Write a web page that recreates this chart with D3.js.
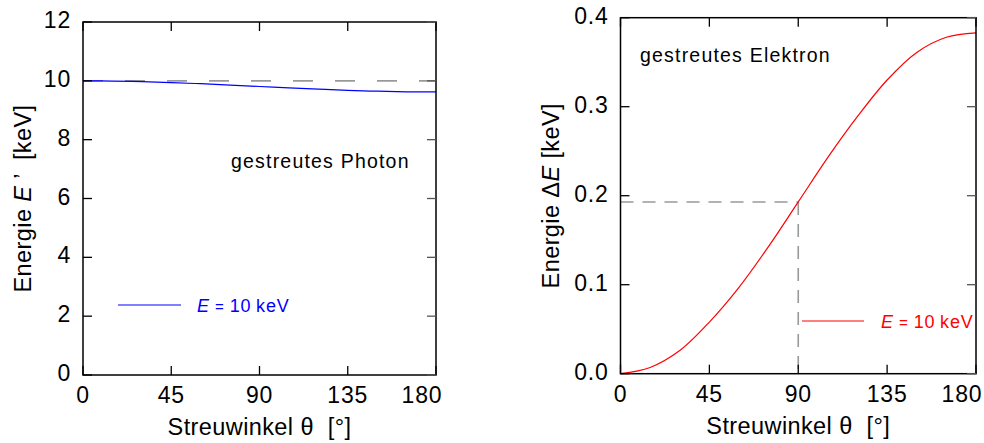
<!DOCTYPE html>
<html>
<head>
<meta charset="utf-8">
<script src="https://cdn.jsdelivr.net/npm/d3@7"></script>
<style>
  body { margin: 0; background: #fff; }
  svg { display: block; font-family: "Liberation Sans", Arial, Helvetica, sans-serif; }
</style>
</head>
<body>
<div id="cont"></div>
<script>
// data //
var angles = [0, 15, 30, 45, 60, 75, 90, 105, 120, 135, 150, 165, 180];
var photonEnergy = [10, 9.993, 9.974, 9.942, 9.902, 9.857, 9.808, 9.760, 9.716, 9.677, 9.647, 9.628, 9.623];
var electronEnergy = [0, 0.007, 0.026, 0.058, 0.097, 0.143, 0.193, 0.243, 0.289, 0.330, 0.361, 0.378, 0.383];
var angleTicks = [0, 45, 90, 135, 180];
var photonTicks = [0, 2, 4, 6, 8, 10, 12];
var electronTicks = [0, 0.1, 0.2, 0.3, 0.4];
var primaryEnergy = 10;
var markAngle = 90;
var markElectron = 0.193;

var svg = d3.select("#cont").append("svg").attr("width", 984).attr("height", 443);

var panel = function(o) {
	var x = d3.scaleLinear().domain([0, 180]).range([o.left, o.right]);
	var y = d3.scaleLinear().domain(o.ydom).range([o.bottom, o.top]);
	var g = svg.append("g");
	var tk = 9;

	// dashed helpers
	o.dashes.forEach(function(d) {
		g.append("line")
			.attr("x1", x(d[0])).attr("y1", y(d[1]))
			.attr("x2", x(d[2])).attr("y2", y(d[3]))
			.attr("stroke", "#999").attr("stroke-width", 1.6)
			.attr("stroke-dasharray", o.dash);
	});

	var line = d3.line()
		.x(function(d, i) { return x(angles[i]); })
		.y(function(d) { return y(d); })
		.curve(d3.curveCatmullRom);
	g.append("path").datum(o.values)
		.attr("d", line)
		.attr("fill", "none")
		.attr("stroke", o.color)
		.attr("stroke-width", 1.2);

	// frame and inward ticks on all sides
	g.append("rect")
		.attr("x", o.left).attr("y", o.top)
		.attr("width", o.right - o.left).attr("height", o.bottom - o.top)
		.attr("fill", "none").attr("stroke", "#000").attr("stroke-width", 1.5);
	angleTicks.forEach(function(t) {
		g.append("line").attr("x1", x(t)).attr("x2", x(t)).attr("y1", o.bottom).attr("y2", o.bottom - tk).attr("stroke", "#000").attr("stroke-width", 1.3);
		g.append("line").attr("x1", x(t)).attr("x2", x(t)).attr("y1", o.top).attr("y2", o.top + tk).attr("stroke", "#000").attr("stroke-width", 1.3);
		// last label is pulled inside the page
		var lx = t === 180 ? x(t) - 14 : x(t);
		g.append("text").attr("x", lx).attr("y", o.bottom + 28)
			.attr("text-anchor", "middle").attr("font-size", 23).attr("letter-spacing", 0.8)
			.text(t);
	});
	o.yticks.forEach(function(t) {
		g.append("line").attr("x1", o.left).attr("x2", o.left + tk).attr("y1", y(t)).attr("y2", y(t)).attr("stroke", "#000").attr("stroke-width", 1.3);
		g.append("line").attr("x1", o.right).attr("x2", o.right - tk).attr("y1", y(t)).attr("y2", y(t)).attr("stroke", "#555").attr("stroke-width", 1.3);
		g.append("text").attr("x", o.left - 12).attr("y", y(t) + 6)
			.attr("text-anchor", "end").attr("font-size", 23).attr("letter-spacing", 0.8)
			.text(o.fmt(t));
	});

	g.append("text")
		.attr("x", (o.left + o.right) / 2).attr("y", o.bottom + o.xlabelDy)
		.attr("text-anchor", "middle").attr("font-size", 23.5).attr("letter-spacing", 0.4)
		.text("Streuwinkel θ  [°]")
		.attr("xml:space", "preserve").style("white-space", "pre");

	var yl = g.append("text")
		.attr("transform", "translate(" + o.ylabelX + "," + ((o.top + o.bottom) / 2) + ") rotate(-90)")
		.attr("text-anchor", "middle").attr("font-size", 23.5).attr("letter-spacing", 0.4)
		.style("white-space", "pre");
	o.ylabel.forEach(function(p) {
		yl.append("tspan").attr("font-style", p[1] ? "italic" : "normal").text(p[0]);
	});

	g.append("text").attr("x", o.note[0]).attr("y", o.note[1])
		.attr("font-size", 19.5).attr("letter-spacing", 1.2)
		.text(o.noteText);

	// legend
	g.append("line")
		.attr("x1", o.leg[0]).attr("x2", o.leg[1]).attr("y1", o.leg[2]).attr("y2", o.leg[2])
		.attr("stroke", o.color).attr("stroke-width", 1.2);
	var lt = g.append("text").attr("x", o.leg[3]).attr("y", o.leg[2] + 7)
		.attr("fill", o.color).attr("font-size", 18).attr("letter-spacing", 0.9)
		.style("white-space", "pre");
	lt.append("tspan").attr("font-style", "italic").text("E");
	lt.append("tspan").attr("font-size", 15).text(" = ");
	lt.append("tspan").text("10\u2009keV");
};

panel({
	left: 83, right: 436, top: 22, bottom: 375,
	ydom: [0, 12], yticks: photonTicks, fmt: d3.format("d"),
	values: photonEnergy, color: "#0000ff",
	dashes: [[0, primaryEnergy, 180, primaryEnergy]], dash: "20,22",
	xlabelDy: 60, ylabelX: 31,
	ylabel: [["Energie "], ["E", true], [" ’  [keV]"]],
	note: [231, 168], noteText: "gestreutes Photon",
	leg: [118, 181, 305, 197]
});

panel({
	left: 620.5, right: 976, top: 17.7, bottom: 373.7,
	ydom: [0, 0.4], yticks: electronTicks, fmt: d3.format(".1f"),
	values: electronEnergy, color: "#ff0000",
	dashes: [[0, markElectron, markAngle, markElectron], [markAngle, markElectron, markAngle, 0]], dash: "13,9",
	xlabelDy: 60, ylabelX: 559,
	ylabel: [["Energie Δ"], ["E", true], [" [keV]"]],
	note: [640, 62], noteText: "gestreutes Elektron",
	leg: [802, 864, 321, 881]
});
</script>
</body>
</html>
